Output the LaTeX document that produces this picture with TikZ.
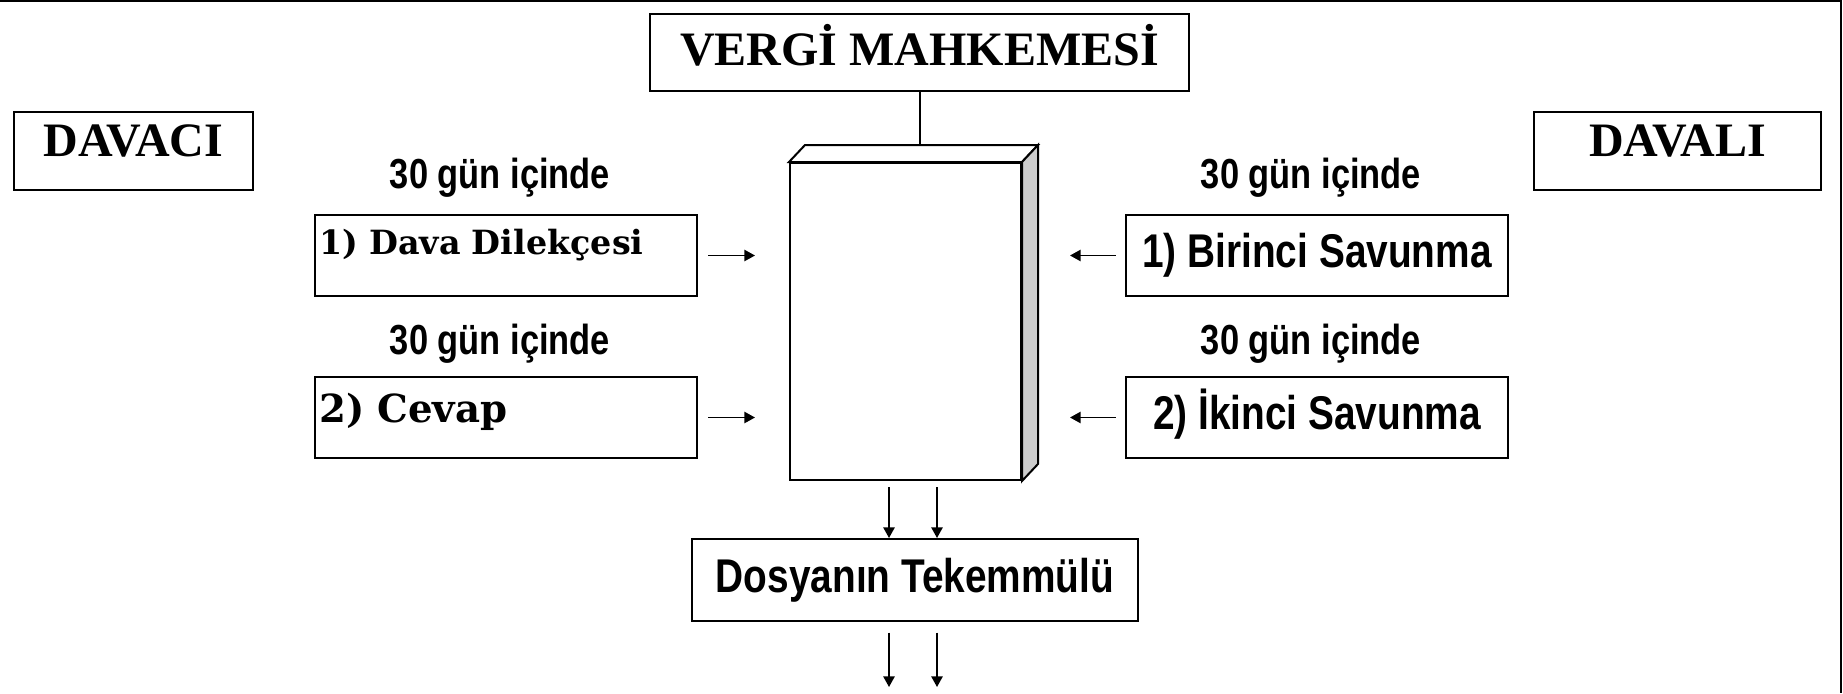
\documentclass[tikz,border=0pt]{standalone}
\usepackage{fontspec}
\setmainfont{Liberation Serif}
\newfontfamily\dejavuserif{DejaVu Serif}
\newfontfamily\narrowsans[FakeStretch=0.82]{Liberation Sans}
\usetikzlibrary{arrows.meta}
\begin{document}
\begin{tikzpicture}[x=0.75pt,y=-0.75pt,
    kutu/.style={draw,line width=1.5pt,inner sep=3pt},
    taraf/.style={kutu,minimum height=58.5pt,font=\fontsize{36}{40}\selectfont\bfseries,text depth=15pt},
    dilekce/.style={kutu,text width=280pt,minimum height=60.75pt,align=left,font=\dejavuserif\fontsize{25}{30}\selectfont\bfseries},
    savunma/.style={kutu,minimum width=286.5pt,minimum height=60.75pt,font=\narrowsans\fontsize{35.5}{40}\selectfont\bfseries,text height=26.5pt,text depth=9pt},
    sure/.style={anchor=base,font=\narrowsans\fontsize{31.5}{36}\selectfont\bfseries},
    ok/.style={line width=1.2pt,-{Triangle[length=8pt,width=8.5pt]}}]
  \useasboundingbox (0,0) rectangle (1843,693);
  \draw[line width=1.5pt] (0,1) -- (1841,1) -- (1841,693);

  \node[kutu,minimum width=404.25pt,minimum height=57.75pt,font=\fontsize{36}{40}\selectfont\bfseries,text height=24pt,text depth=5pt] (mahkeme) at (919.5,52.5) {VERGİ MAHKEMESİ};
  \node[taraf,minimum width=179.25pt] (davaci) at (133.5,151) {DAVACI};
  \node[taraf,minimum width=215.25pt] (davali) at (1677.5,151) {DAVALI};

  \node[sure] (sure1) at (500,188) {30 gün içinde};
  \node[sure] (sure2) at (500,354) {30 gün içinde};
  \node[sure] (sure3) at (1311,188) {30 gün içinde};
  \node[sure] (sure4) at (1311,354) {30 gün içinde};

  \node[dilekce,text depth=21pt] (dilekce) at (506,255.5) {1) Dava Dilekçesi};
  \node[dilekce,font=\dejavuserif\fontsize{29}{34}\selectfont\bfseries,text depth=15pt] (cevap) at (506,417.5) {2) Cevap};
  \node[savunma] (birinci) at (1317,255.5) {1) Birinci Savunma};
  \node[savunma] (ikinci) at (1317,417.5) {2) İkinci Savunma};

  \node[draw,fill=white,line width=1.5pt,inner sep=0pt,minimum width=173.25pt,minimum height=237.75pt] (klasor) at (905.5,321.5) {};
  \draw[line width=1.5pt,fill=white] (klasor.north west) -- ([shift={(16,-17)}]klasor.north west) -- ([shift={(16,-17)}]klasor.north east) -- (klasor.north east) -- cycle;
  \draw[line width=1.5pt,fill=black!20] (klasor.north east) -- ([shift={(16,-17)}]klasor.north east) -- ([shift={(16,-17)}]klasor.south east) -- (klasor.south east) -- cycle;
  \coordinate (arka) at ([shift={(16,-17)}]klasor.north);
  \draw[line width=1.5pt] (mahkeme.south) -- (mahkeme.south |- arka);

  \node[kutu,minimum width=334.5pt,minimum height=61.5pt,font=\narrowsans\fontsize{35.5}{40}\selectfont\bfseries] (tekemmul) at (915,580) {Dosyanın Tekemmülü};

  \draw[ok,shorten <=8pt,shorten >=25.5pt] (dilekce.east) -- (dilekce.east -| klasor.west);
  \draw[ok,shorten <=8pt,shorten >=25.5pt] (cevap.east) -- (cevap.east -| klasor.west);
  \draw[ok,shorten <=7pt,shorten >=36pt] (birinci.west) -- (birinci.west -| klasor.east);
  \draw[ok,shorten <=7pt,shorten >=36pt] (ikinci.west) -- (ikinci.west -| klasor.east);

  \coordinate (sol) at ([xshift=-19.5pt]tekemmul.north);
  \coordinate (sag) at ([xshift=16.5pt]tekemmul.north);
  \coordinate (son) at (0,687);
  \foreach \k in {sol,sag} {
    \draw[ok,shorten <=4.5pt] (\k |- klasor.south) -- (\k);
    \draw[ok,shorten <=8pt] (\k |- tekemmul.south) -- (\k |- son);
  }
\end{tikzpicture}
\end{document}
